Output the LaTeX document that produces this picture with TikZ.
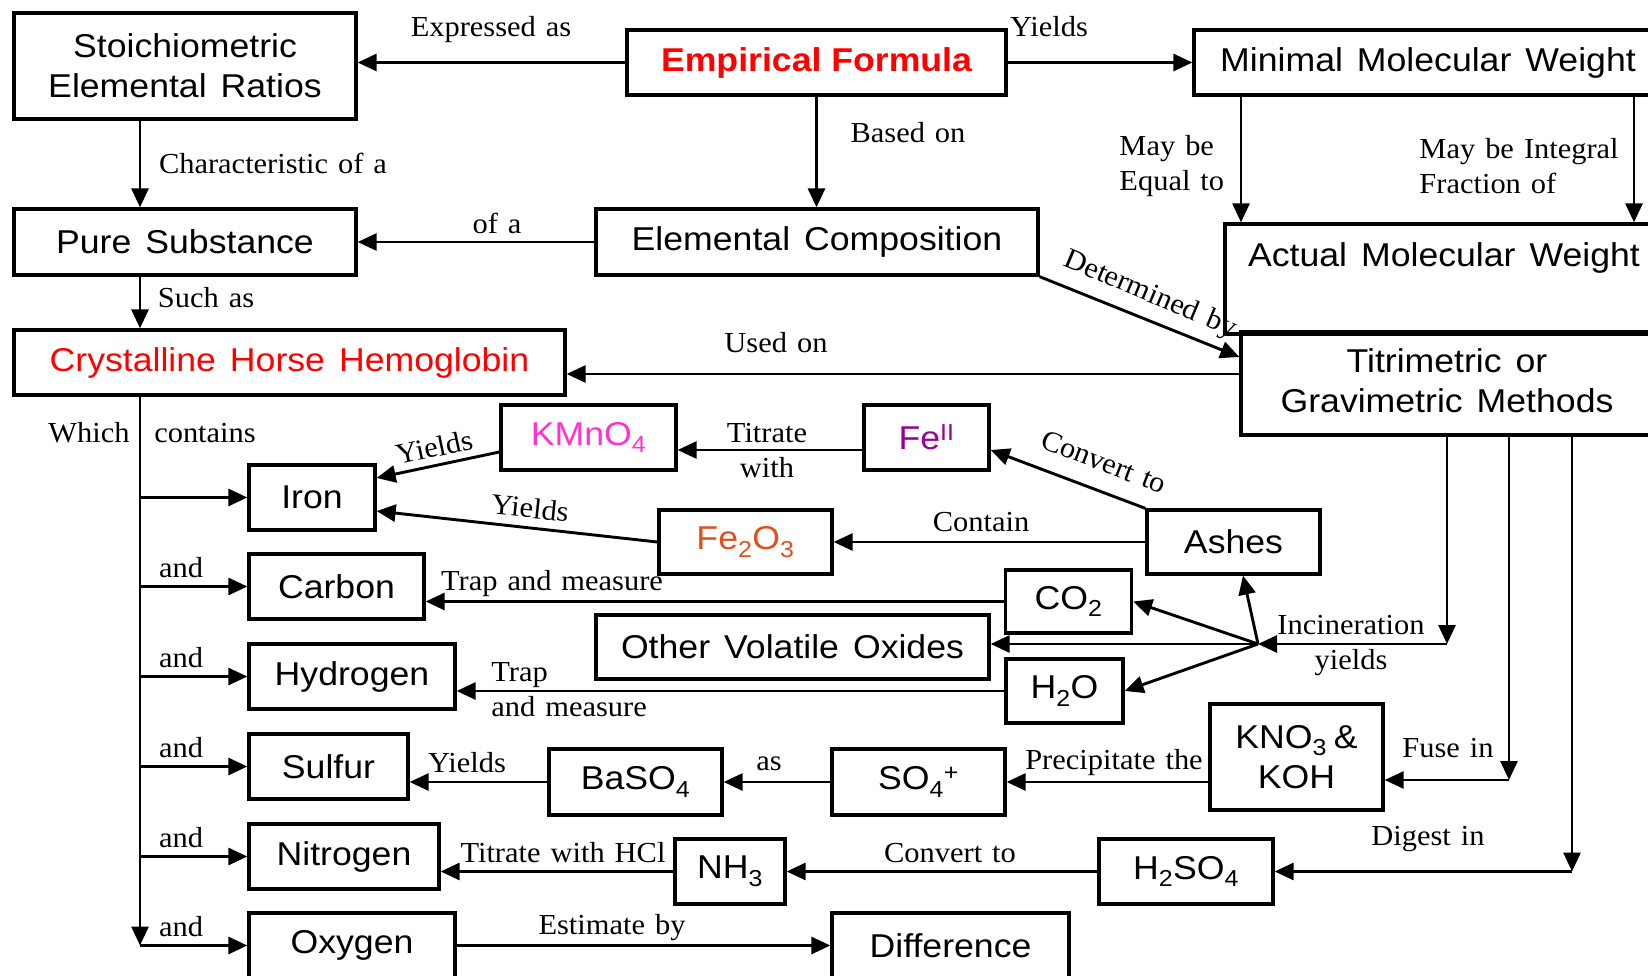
\documentclass[tikz,border=0pt]{standalone}
\usepackage{fontspec}
\setmainfont{Liberation Serif}[FakeStretch=1.05]
\setsansfont{Liberation Sans}[FakeStretch=1.08]
\usetikzlibrary{arrows.meta}

\definecolor{efred}{RGB}{255,0,0}
\definecolor{kmnpink}{RGB}{255,51,204}
\definecolor{fepurple}{RGB}{153,0,153}
\definecolor{feorange}{RGB}{224,80,30}

\tikzset{every picture/.style={line width=2.9pt}}
\tikzset{
  box/.style={draw, line width=3.3pt, inner sep=0pt, align=center,
    font={\sffamily\fontsize{33}{40}\selectfont\spaceskip=14pt\relax}},
  sz/.style 2 args={minimum width=#1pt, minimum height=#2pt},
  lab/.style={inner sep=0pt, align=center,
    font={\rmfamily\fontsize{29}{35}\selectfont\spaceskip=10pt\relax}},
  arr/.style={line width=2.9pt, -{Triangle[length=19pt,width=17pt]}},
}

\begin{document}
\begin{tikzpicture}[x=1pt,y=1pt,yscale=-1,xscale=1]
\useasboundingbox (0,0) rectangle (1648,976);
\fill[white] (0,0) rectangle (1648,976);
\clip (0,0) rectangle (1648,976);

%Shape: Boxes
\node[box, sz={342}{106}] (stoich) at (185,66) {Stoichiometric\\Elemental Ratios};
\node[box, sz={379}{65}, text=efred, font={\sffamily\bfseries\fontsize{33}{40}\selectfont}] (emp) at (816.5,62.5) {Empirical Formula};
\node[box, sz={468}{65}] (minw) at (1428,62.5) {Minimal Molecular Weight};
\node[box, sz={342}{66}] (pure) at (185,242) {Pure Substance};
\node[box, sz={442}{66}] (elem) at (817,242) {Elemental Composition};
\node[box, sz={438}{110}] (actual) at (1444,279) {\raisebox{48pt}{Actual Molecular Weight}};
\node[box, sz={412}{103}, text depth=6pt] (titr) at (1447,383.5) {Titrimetric or\\Gravimetric Methods};
\node[box, sz={551}{65}, text=efred] (cryst) at (289.5,362.5) {Crystalline Horse Hemoglobin};
\node[box, sz={175}{65}, text=kmnpink] (kmno) at (588.5,437.5) {KMnO\textsubscript{4}};
\node[box, sz={125}{65}, text=fepurple] (fe2) at (926.5,437.5) {Fe\textsuperscript{II}};
\node[box, sz={126}{65}] (iron) at (312,497.5) {Iron};
\node[box, sz={173}{64}, text=feorange] (fe2o3) at (745.5,542) {Fe\textsubscript{2}O\textsubscript{3}};
\node[box, sz={173}{64}] (ashes) at (1233.5,542) {Ashes};
\node[box, sz={175}{65}] (carbon) at (336.5,586.5) {Carbon};
\node[box, sz={126}{63}] (co2) at (1068.5,601.5) {CO\textsubscript{2}};
\node[box, sz={393}{64}] (ovo) at (792.5,647) {Other Volatile Oxides};
\node[box, sz={117}{64}] (h2o) at (1064.5,691) {H\textsubscript{2}O};
\node[box, sz={206}{65}] (hydrogen) at (352,676.5) {Hydrogen};
\node[box, sz={173}{106}] (kno) at (1296.5,757) {KNO\textsubscript{3}\hspace{7pt}\&\\KOH};
\node[box, sz={159}{65}] (sulfur) at (328.5,766.5) {Sulfur};
\node[box, sz={173}{66}] (baso) at (635.5,782) {BaSO\textsubscript{4}};
\node[box, sz={173}{66}] (so4) at (918.5,782) {SO\textsubscript{4}\textsuperscript{+}};
\node[box, sz={190}{65}] (nitrogen) at (344,856.5) {Nitrogen};
\node[box, sz={110}{65}] (nh3) at (730,871.5) {NH\textsubscript{3}};
\node[box, sz={174}{65}] (h2so) at (1186,871.5) {H\textsubscript{2}SO\textsubscript{4}};
\node[box, sz={206}{65}] (oxygen) at (352,945.5) {Oxygen};
\node[box, sz={237}{65}] (diff) at (950.5,945.5) {Difference};

\coordinate (tx) at (140,0);
\coordinate (hub) at (1258,644);
\coordinate (inc) at (titr.south |- hub);
\coordinate (fuse) at (1509,780);
\coordinate (dig) at (1572,871.5);

%Straight Lines: upper part
\draw[arr] (emp.west) -- (emp.west -| stoich.east);
\draw[arr] (emp.east) -- (minw.west);
\draw[arr] (emp.south) -- (emp.south |- elem.north);
\draw[arr] (stoich.south -| tx) -- (pure.north -| tx);
\draw[arr] (elem.west) -- (pure.east);
\draw[arr] (pure.south -| tx) -- (cryst.north -| tx);
\draw[arr] (minw.south -| 1241,0) -- (actual.north -| 1241,0);
\draw[arr] (minw.south -| 1634,0) -- (actual.north -| 1634,0);
\draw[arr] (elem.south east) -- (titr.west |- 0,357);
\draw[arr] (titr.west |- 0,374) -- (cryst.east |- 0,374);

%Straight Lines: trunk and elements
\draw[arr] (cryst.south -| tx) -- (oxygen.west -| tx);
\foreach \el in {iron,carbon,hydrogen,sulfur,nitrogen,oxygen}
  \draw[arr] (\el.west -| tx) -- (\el.west);

%Straight Lines: iron
\draw[arr] (kmno.west |- 0,452) -- (iron.east |- 0,478);
\draw[arr] (fe2.west |- 0,450) -- (kmno.east |- 0,450);
\draw[arr] (ashes.north west) -- (fe2.east |- 0,450);
\draw[arr] (fe2o3.west) -- (iron.east |- 0,511);
\draw[arr] (ashes.west) -- (fe2o3.east);

%Straight Lines: incineration
\draw[arr] (co2.west) -- (co2.west -| carbon.east);
\draw[arr] (h2o.west) -- (h2o.west -| hydrogen.east);
\foreach \tg in {co2.east,h2o.east}
  \draw[arr] (hub) -- (\tg);
\draw[arr] (hub) -- (hub -| ovo.east);
\draw[arr] (hub) -- (ashes.south -| 1243,0);
\draw[arr] (titr.south) -- (inc);
\draw[arr] (inc) -- (hub);

%Straight Lines: fusion and digestion
\draw[arr] (titr.south -| fuse) -- (fuse);
\draw[arr] (fuse) -- (fuse -| kno.east);
\draw[arr] (titr.south -| dig) -- (dig);
\draw[arr] (dig) -- (h2so.east);
\draw[arr] (kno.west |- so4.east) -- (so4.east);
\draw[arr] (so4.west) -- (baso.east);
\draw[arr] (baso.west) -- (baso.west -| sulfur.east);
\draw[arr] (h2so.west) -- (nh3.east);
\draw[arr] (nh3.west) -- (nh3.west -| nitrogen.east);
\draw[arr] (oxygen.east) -- (diff.west);

% Text Node
\node[lab] (lexp) at (491,30) {Expressed as};
\node[lab] (lyld) at (1049,27) {Yields};
\node[lab] (lbased) at (908,133) {Based on};
\node[lab] (lchar) at (273,163) {Characteristic of a};
\node[lab] (lofa) at (497,223) {of a};
\node[lab] (lsuch) at (206,298) {Such as};
\node[lab, anchor=west, align=left] (leq) at (1118,166) {May be\\Equal to};
\node[lab, anchor=west, align=left] (lfrac) at (1418,166) {May be Integral\\Fraction of};
\node[lab, rotate=-22.8] (ldet) at (1150,295) {Determined by};
\node[lab] (lused) at (776,343) {Used on};
\node[lab] (lwhich) at (89,433) {Which};
\node[lab] (lcont) at (205,433) {contains};
\foreach \el in {carbon,hydrogen,sulfur,nitrogen,oxygen}
  \path (\el.west -| 181,0) node[lab, above=7pt] (and\el) {and};
% Text Node
\node[lab, rotate=12] (lykm) at (434,447) {Yields};
\node[lab] (ltit) at (767,450.5) {Titrate\\with};
\node[lab, rotate=-21] (lconv) at (1104,462) {Convert to};
\node[lab, rotate=-6] (lyfe) at (530,508) {Yields};
\node[lab] (lcontain) at (981,522) {Contain};
\node[lab] (ltrapc) at (552,584) {Trap and measure};
\node[lab, anchor=west, align=left] (ltraph) at (490,690) {Trap\\and measure};
\node[lab] (linc) at (1351,645.5) {Incineration\\yields};
% Text Node
\node[lab] (lfuse) at (1448,748) {Fuse in};
\node[lab] (ldig) at (1428,839) {Digest in};
\node[lab] (lprec) at (1114,763) {Precipitate the};
\node[lab] (las) at (769,764) {as};
\node[lab] (lys) at (467,763) {Yields};
\node[lab] (lconv2) at (950,853) {Convert to};
\node[lab] (ltitr) at (563,853) {Titrate with HCl};
\node[lab] (lest) at (612,928) {Estimate by};

\end{tikzpicture}
\end{document}
